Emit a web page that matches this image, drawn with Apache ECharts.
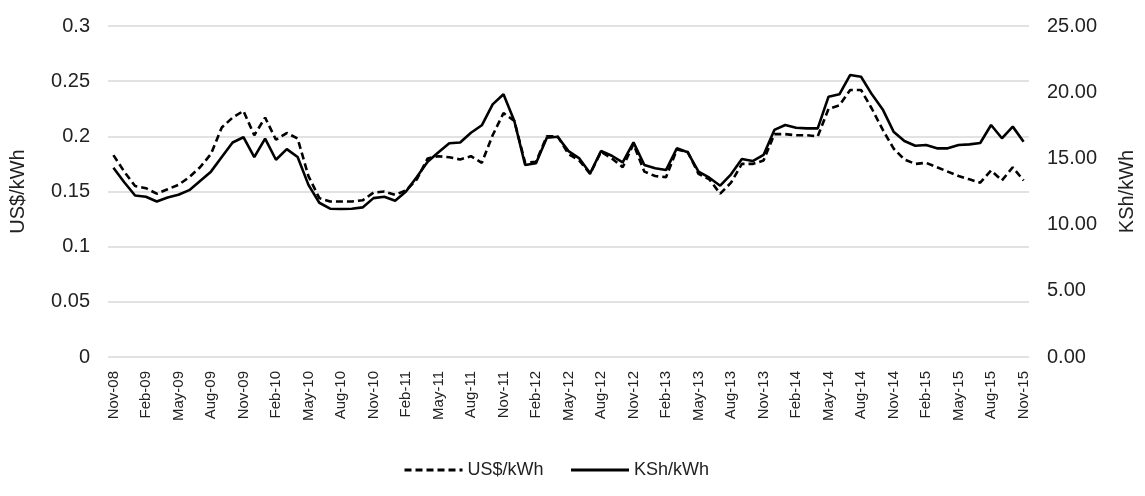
<!DOCTYPE html>
<html>
<head>
<meta charset="utf-8">
<script src="https://cdn.jsdelivr.net/npm/echarts@6/dist/echarts.min.js"></script>
<style>
  html, body { margin: 0; padding: 0; background: #fff; overflow: hidden; }
  #chart { width: 1145px; height: 496px; }
</style>
</head>
<body>
<div id="chart"></div>
<script>
// Meses, de Nov-08 a Nov-15
const months = [
  'Nov-08','Dec-08','Jan-09','Feb-09','Mar-09','Apr-09','May-09','Jun-09','Jul-09','Aug-09','Sep-09','Oct-09',
  'Nov-09','Dec-09','Jan-10','Feb-10','Mar-10','Apr-10','May-10','Jun-10','Jul-10','Aug-10','Sep-10','Oct-10',
  'Nov-10','Dec-10','Jan-11','Feb-11','Mar-11','Apr-11','May-11','Jun-11','Jul-11','Aug-11','Sep-11','Oct-11',
  'Nov-11','Dec-11','Jan-12','Feb-12','Mar-12','Apr-12','May-12','Jun-12','Jul-12','Aug-12','Sep-12','Oct-12',
  'Nov-12','Dec-12','Jan-13','Feb-13','Mar-13','Apr-13','May-13','Jun-13','Jul-13','Aug-13','Sep-13','Oct-13',
  'Nov-13','Dec-13','Jan-14','Feb-14','Mar-14','Apr-14','May-14','Jun-14','Jul-14','Aug-14','Sep-14','Oct-14',
  'Nov-14','Dec-14','Jan-15','Feb-15','Mar-15','Apr-15','May-15','Jun-15','Jul-15','Aug-15','Sep-15','Oct-15',
  'Nov-15'
];

// US$/kWh (eje izquierdo)
const usd = [
  0.183, 0.168, 0.155, 0.153, 0.148, 0.152, 0.156, 0.163, 0.172, 0.184, 0.208, 0.217,
  0.223, 0.201, 0.217, 0.197, 0.203, 0.198, 0.164, 0.144, 0.141, 0.141, 0.141, 0.142,
  0.149, 0.150, 0.147, 0.151, 0.161, 0.180, 0.182, 0.181, 0.179, 0.182, 0.176, 0.201,
  0.221, 0.214, 0.176, 0.177, 0.200, 0.200, 0.184, 0.178, 0.166, 0.186, 0.180, 0.172,
  0.193, 0.168, 0.164, 0.163, 0.188, 0.186, 0.166, 0.161, 0.148, 0.158, 0.175, 0.175,
  0.178, 0.202, 0.202, 0.201, 0.201, 0.200, 0.225, 0.228, 0.242, 0.242, 0.225, 0.206,
  0.189, 0.179, 0.175, 0.176, 0.172, 0.168, 0.164, 0.161, 0.158, 0.169, 0.160, 0.172,
  0.160
];

// KSh/kWh (eje derecho)
const ksh = [
  14.3, 13.2, 12.2, 12.1, 11.75, 12.05, 12.25, 12.6, 13.3, 14.0, 15.1, 16.2,
  16.6, 15.1, 16.5, 14.9, 15.7, 15.1, 13.0, 11.65, 11.2, 11.18, 11.2, 11.3,
  12.0, 12.1, 11.8, 12.5, 13.6, 14.75, 15.46, 16.14, 16.2, 16.94, 17.5, 19.08,
  19.84, 17.82, 14.5, 14.63, 16.56, 16.64, 15.55, 15.0, 13.87, 15.56, 15.2, 14.7,
  16.21, 14.5, 14.25, 14.12, 15.76, 15.46, 14.0, 13.54, 12.94, 13.8, 14.95, 14.8,
  15.26, 17.15, 17.52, 17.32, 17.27, 17.27, 19.66, 19.84, 21.3, 21.17, 19.84, 18.7,
  17.02, 16.31, 15.96, 16.01, 15.76, 15.76, 16.01, 16.06, 16.16, 17.52, 16.52, 17.4,
  16.26
];

const font = 'Liberation Sans, Arial, sans-serif';
const textColor = '#222';

const chart = echarts.init(document.getElementById('chart'));
chart.setOption({
  animation: false,
  grid: { left: 106, right: 94, top: 26, bottom: 139, containLabel: false },
  legend: {
    bottom: 12,
    left: 398,
    itemWidth: 58,
    itemHeight: 14,
    itemGap: 26,
    itemStyle: { opacity: 0 },
    lineStyle: { width: 3 },
    textStyle: { fontFamily: font, fontSize: 18, color: textColor },
    data: ['US$/kWh', 'KSh/kWh']
  },
  xAxis: {
    type: 'category',
    data: months,
    boundaryGap: true,
    axisLine: { show: false },
    axisTick: { show: false },
    axisLabel: {
      interval: 2,
      rotate: 90,
      margin: 14,
      fontFamily: font,
      fontSize: 15,
      color: textColor
    },
    splitLine: { show: false }
  },
  yAxis: [
    {
      type: 'value',
      min: 0,
      max: 0.3,
      interval: 0.05,
      name: 'US$/kWh',
      nameLocation: 'middle',
      nameRotate: 90,
      nameGap: 80,
      nameTextStyle: { fontFamily: font, fontSize: 20, color: textColor },
      axisLine: { show: false },
      axisTick: { show: false },
      axisLabel: { margin: 18, fontFamily: font, fontSize: 20, color: textColor },
      splitLine: { lineStyle: { color: '#d9d9d9', width: 1.5 } }
    },
    {
      type: 'value',
      min: 0,
      max: 25,
      interval: 5,
      name: 'KSh/kWh',
      nameLocation: 'middle',
      nameRotate: 90,
      nameGap: 88,
      nameTextStyle: { fontFamily: font, fontSize: 20, color: textColor },
      axisLine: { show: false },
      axisTick: { show: false },
      axisLabel: {
        margin: 18,
        fontFamily: font,
        fontSize: 20,
        color: textColor,
        formatter: v => v.toFixed(2)
      },
      splitLine: { show: false }
    }
  ],
  series: [
    {
      name: 'US$/kWh',
      type: 'line',
      yAxisIndex: 0,
      data: usd,
      symbol: 'none',
      lineStyle: { color: '#000', width: 2.6, type: [7, 4] },
      itemStyle: { color: '#000' }
    },
    {
      name: 'KSh/kWh',
      type: 'line',
      yAxisIndex: 1,
      data: ksh,
      symbol: 'none',
      lineStyle: { color: '#000', width: 2.6 },
      itemStyle: { color: '#000' }
    }
  ]
});
</script>
</body>
</html>
